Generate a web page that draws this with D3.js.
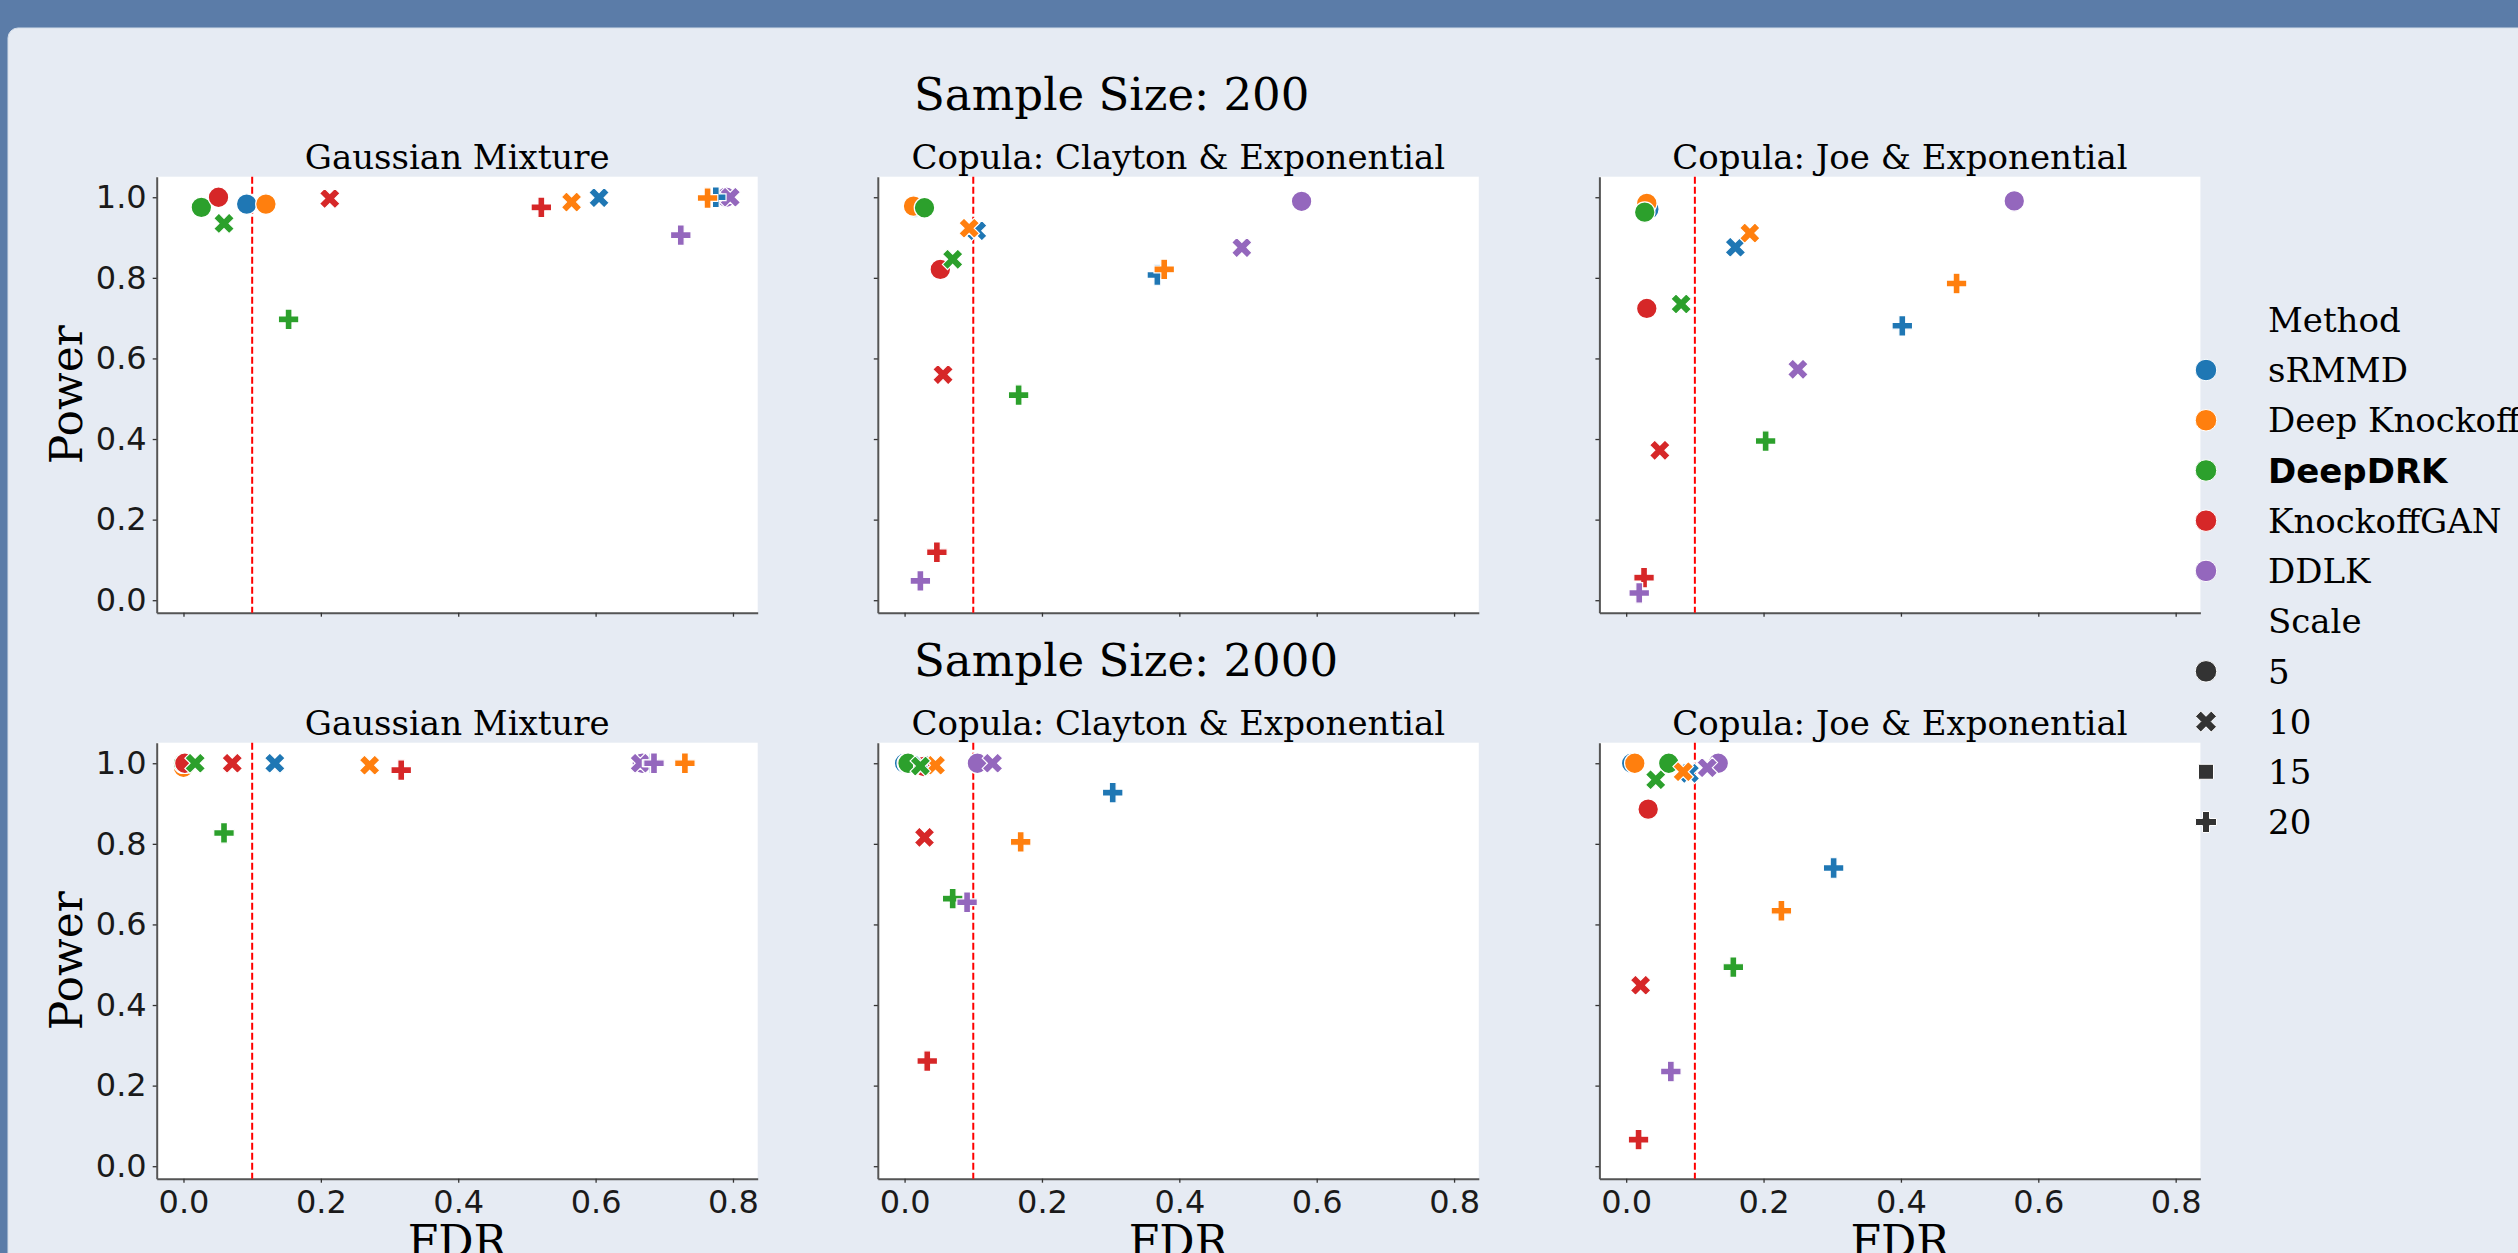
<!DOCTYPE html>
<html><head><meta charset="utf-8">
<script src="https://cdn.jsdelivr.net/npm/d3@7"></script>
<style>html,body{margin:0;padding:0;background:#5b7ca8;overflow:hidden}</style>
</head><body>
<svg id="chart" width="2518" height="1253"></svg>
<script>
// ---------- data ----------
const methods = ["sRMMD", "Deep Knockoff", "DeepDRK", "KnockoffGAN", "DDLK"];
const methodColors = ["#1f77b4", "#ff7f0e", "#2ca02c", "#d62728", "#9467bd"];
const scaleLevels = [5, 10, 15, 20];
const sampleSizes = [200, 2000];
const datasets = ["Gaussian Mixture", "Copula: Clayton & Exponential", "Copula: Joe & Exponential"];
const xTicks = [0, 0.2, 0.4, 0.6, 0.8];
const yTicks = [0, 0.2, 0.4, 0.6, 0.8, 1.0];
const fdrTarget = 0.1;

// [method, scale, FDR, Power]
const gm200 = [
  ["sRMMD", 5, 0.092, 0.983], ["sRMMD", 10, 0.605, 0.999], ["sRMMD", 20, 0.775, 1.0],
  ["Deep Knockoff", 5, 0.120, 0.983], ["Deep Knockoff", 10, 0.565, 0.988], ["Deep Knockoff", 20, 0.763, 0.998],
  ["DeepDRK", 5, 0.026, 0.975], ["DeepDRK", 10, 0.059, 0.935], ["DeepDRK", 20, 0.153, 0.697],
  ["KnockoffGAN", 5, 0.051, 1.0], ["KnockoffGAN", 10, 0.213, 0.997], ["KnockoffGAN", 20, 0.521, 0.975],
  ["DDLK", 5, 0.790, 1.0], ["DDLK", 10, 0.796, 1.0], ["DDLK", 20, 0.724, 0.906]
];
const clayton200 = [
  ["sRMMD", 5, 0.015, 0.976], ["sRMMD", 10, 0.105, 0.917], ["sRMMD", 20, 0.368, 0.807],
  ["Deep Knockoff", 5, 0.013, 0.978], ["Deep Knockoff", 10, 0.094, 0.923], ["Deep Knockoff", 20, 0.378, 0.821],
  ["DeepDRK", 5, 0.029, 0.974], ["DeepDRK", 10, 0.070, 0.846], ["DeepDRK", 20, 0.166, 0.509],
  ["KnockoffGAN", 5, 0.052, 0.821], ["KnockoffGAN", 10, 0.056, 0.560], ["KnockoffGAN", 20, 0.047, 0.119],
  ["DDLK", 5, 0.578, 0.990], ["DDLK", 10, 0.491, 0.875], ["DDLK", 20, 0.023, 0.048]
];
const joe200 = [
  ["sRMMD", 5, 0.033, 0.970], ["sRMMD", 10, 0.159, 0.876], ["sRMMD", 20, 0.402, 0.681],
  ["Deep Knockoff", 5, 0.030, 0.985], ["Deep Knockoff", 10, 0.180, 0.911], ["Deep Knockoff", 20, 0.481, 0.786],
  ["DeepDRK", 5, 0.027, 0.963], ["DeepDRK", 10, 0.080, 0.735], ["DeepDRK", 20, 0.203, 0.395],
  ["KnockoffGAN", 5, 0.030, 0.724], ["KnockoffGAN", 10, 0.049, 0.372], ["KnockoffGAN", 20, 0.026, 0.056],
  ["DDLK", 5, 0.565, 0.991], ["DDLK", 10, 0.250, 0.573], ["DDLK", 20, 0.019, 0.018]
];
const gm2000 = [
  ["sRMMD", 5, 0.0, 1.0], ["sRMMD", 10, 0.133, 1.0], ["sRMMD", 20, 0.683, 1.0],
  ["Deep Knockoff", 5, 0.0, 0.990], ["Deep Knockoff", 10, 0.271, 0.995], ["Deep Knockoff", 20, 0.730, 1.0],
  ["DeepDRK", 5, 0.0, 1.0], ["DeepDRK", 10, 0.017, 1.0], ["DeepDRK", 20, 0.059, 0.827],
  ["KnockoffGAN", 5, 0.002, 1.0], ["KnockoffGAN", 10, 0.071, 1.0], ["KnockoffGAN", 20, 0.317, 0.983],
  ["DDLK", 5, 0.668, 1.0], ["DDLK", 10, 0.665, 1.0], ["DDLK", 20, 0.685, 1.0]
];
const clayton2000 = [
  ["sRMMD", 5, 0.0, 1.0], ["sRMMD", 10, 0.025, 0.995], ["sRMMD", 20, 0.303, 0.927],
  ["Deep Knockoff", 5, 0.004, 1.0], ["Deep Knockoff", 10, 0.045, 0.995], ["Deep Knockoff", 20, 0.169, 0.805],
  ["DeepDRK", 5, 0.005, 1.0], ["DeepDRK", 10, 0.023, 0.993], ["DeepDRK", 20, 0.070, 0.664],
  ["KnockoffGAN", 5, 0.028, 0.992], ["KnockoffGAN", 10, 0.029, 0.816], ["KnockoffGAN", 20, 0.033, 0.261],
  ["DDLK", 5, 0.106, 1.0], ["DDLK", 10, 0.128, 1.0], ["DDLK", 20, 0.091, 0.655]
];
const joe2000 = [
  ["sRMMD", 5, 0.008, 1.0], ["sRMMD", 10, 0.092, 0.975], ["sRMMD", 20, 0.302, 0.740],
  ["Deep Knockoff", 5, 0.0125, 1.0], ["Deep Knockoff", 10, 0.083, 0.979], ["Deep Knockoff", 20, 0.226, 0.634],
  ["DeepDRK", 5, 0.062, 1.0], ["DeepDRK", 10, 0.043, 0.959], ["DeepDRK", 20, 0.156, 0.494],
  ["KnockoffGAN", 5, 0.032, 0.886], ["KnockoffGAN", 10, 0.021, 0.449], ["KnockoffGAN", 20, 0.018, 0.066],
  ["DDLK", 5, 0.134, 1.0], ["DDLK", 10, 0.118, 0.989], ["DDLK", 20, 0.065, 0.235]
];
const panelData = [[gm200, clayton200, joe200], [gm2000, clayton2000, joe2000]];

// ---------- layout ----------
const W = 2518, H = 1253;
const colX = [156.7, 877.8, 1599.4];
const rowY = [176.7, 742.7];
const PW = 601, PH = 436;
const SERIF = "'DejaVu Serif', serif";
const SANS = "'DejaVu Sans', sans-serif";

// custom matplotlib-like marker shapes; size = (full extent)^2
const symCircle = { draw(ctx, size) { const r = Math.sqrt(size) / 2; ctx.moveTo(r, 0); ctx.arc(0, 0, r, 0, 2 * Math.PI); } };
const symSquare = { draw(ctx, size) { const h = Math.sqrt(size) / 2; ctx.rect(-h, -h, 2 * h, 2 * h); } };
const polyPts = (pts, k) => ({ draw(ctx, size) { const s = Math.sqrt(size) / k; pts.forEach((p, i) => i ? ctx.lineTo(p[0] * s, p[1] * s) : ctx.moveTo(p[0] * s, p[1] * s)); ctx.closePath(); } });
const symX = polyPts([[-1,-2],[0,-1],[1,-2],[2,-1],[1,0],[2,1],[1,2],[0,1],[-1,2],[-2,1],[-1,0],[-2,-1]], 4);
const symPlus = polyPts([[-1,-3],[1,-3],[1,-1],[3,-1],[3,1],[1,1],[1,3],[-1,3],[-1,1],[-3,1],[-3,-1],[-1,-1]], 6);
const scaleSymbol = { 5: symCircle, 10: symX, 15: symSquare, 20: symPlus };
const markerExtent = { 5: 20.5, 10: 20.5, 15: 16, 20: 20.5 };
const legendExtent = { 5: 21.5, 10: 21, 15: 15, 20: 21 };

const color = d3.scaleOrdinal().domain(methods).range(methodColors);

const svg = d3.select("#chart");
// frame & card
svg.append("rect").attr("width", W).attr("height", H).attr("fill", "#5b7ca8");
svg.append("rect").attr("x", 8).attr("y", 28).attr("width", W + 40).attr("height", H + 40)
  .attr("rx", 10).attr("fill", "#e6ebf3").attr("stroke", "#d4deea").attr("stroke-width", 1);

// suptitles
const supBase = [110, 676];
sampleSizes.forEach((n, r) => {
  svg.append("text").attr("x", 914).attr("y", supBase[r])
    .attr("font-family", SERIF).attr("font-size", 45).attr("fill", "#000")
    .text(`Sample Size: ${n}`);
});

panelData.forEach((row, r) => {
  row.forEach((data, c) => {
    const g = svg.append("g").attr("transform", `translate(${colX[c]},${rowY[r]})`);
    const x = d3.scaleLinear().domain([-0.039, 0.836]).range([0, PW]);
    const y = d3.scaleLinear().domain([-0.031, 1.051]).range([PH, 0]);

    g.append("rect").attr("width", PW).attr("height", PH).attr("fill", "#fff");

    // title
    g.append("text").attr("x", PW / 2).attr("y", -8).attr("text-anchor", "middle")
      .attr("font-family", SERIF).attr("font-size", 34).attr("fill", "#000").text(datasets[c]);

    // axes
    const yAxis = d3.axisLeft(y).tickValues(yTicks).tickSize(4).tickSizeOuter(0).tickPadding(6)
      .tickFormat(c === 0 ? d3.format(".1f") : () => "");
    const xAxis = d3.axisBottom(x).tickValues(xTicks).tickSize(4).tickSizeOuter(0).tickPadding(6)
      .tickFormat(r === 1 ? d3.format(".1f") : () => "");
    const gy = g.append("g").call(yAxis);
    const gx = g.append("g").attr("transform", `translate(0,${PH})`).call(xAxis);
    [gx, gy].forEach(ax => {
      ax.select(".domain").attr("stroke", "#555").attr("stroke-width", 2);
      ax.selectAll(".tick line").attr("stroke", "#333").attr("stroke-width", 1.3);
      ax.selectAll(".tick text").attr("font-family", SANS).attr("font-size", 32).attr("fill", "#1a1a1a");
    });
    gx.selectAll(".tick text").attr("y", 34).attr("dy", 0);
    gy.selectAll(".tick text").attr("x", -10);

    // FDR target line
    g.append("line").attr("x1", x(fdrTarget)).attr("x2", x(fdrTarget)).attr("y1", 0).attr("y2", PH)
      .attr("stroke", "#ff0000").attr("stroke-width", 2).attr("stroke-dasharray", "7,3");

    // points: scale-major, method-minor draw order
    const pts = data.map(d => ({ m: d[0], s: d[1], fdr: d[2], pow: d[3] }))
      .sort((a, b) => (a.s - b.s) || (methods.indexOf(a.m) - methods.indexOf(b.m)));
    g.append("g").selectAll("path").data(pts).join("path")
      .attr("transform", d => `translate(${x(d.fdr)},${y(d.pow)})`)
      .attr("d", d => d3.symbol().type(scaleSymbol[d.s]).size(markerExtent[d.s] ** 2)())
      .attr("fill", d => color(d.m)).attr("stroke", "#fff").attr("stroke-width", 1.2);

    // axis labels
    if (c === 0) {
      g.append("text").attr("transform", `translate(${82 - colX[0]},${PH / 2}) rotate(-90)`)
        .attr("text-anchor", "middle").attr("font-family", SERIF).attr("font-size", 44).attr("fill", "#000")
        .text("Power");
    }
    if (r === 1) {
      g.append("text").attr("x", PW / 2).attr("y", 1257 - rowY[1]).attr("text-anchor", "middle")
        .attr("font-family", SERIF).attr("font-size", 44).attr("fill", "#000").text("FDR");
    }
  });
});

// legend
const lg = svg.append("g");
const legendRows = [];
legendRows.push({ label: "Method", title: true });
methods.forEach((m, i) => legendRows.push({ label: m, fill: methodColors[i], sym: symCircle, ext: legendExtent[5], bold: m === "DeepDRK" }));
legendRows.push({ label: "Scale", title: true });
scaleLevels.forEach(s => legendRows.push({ label: String(s), fill: "#333333", sym: scaleSymbol[s], ext: legendExtent[s] }));
const legendY = d3.scaleLinear().domain([0, legendRows.length - 1]).range([319.8, 822]);
legendRows.forEach((row, i) => {
  const cy = legendY(i);
  if (!row.title) {
    lg.append("path").attr("transform", `translate(2206,${cy})`)
      .attr("d", d3.symbol().type(row.sym).size(row.ext ** 2)())
      .attr("fill", row.fill).attr("stroke", "#fff").attr("stroke-width", 1);
  }
  lg.append("text").attr("x", 2268).attr("y", cy).attr("dy", "0.36em")
    .attr("font-family", row.bold ? SANS : SERIF).attr("font-weight", row.bold ? "bold" : "normal")
    .attr("font-size", 34).attr("fill", "#000").text(row.label);
});
</script>
</body></html>
